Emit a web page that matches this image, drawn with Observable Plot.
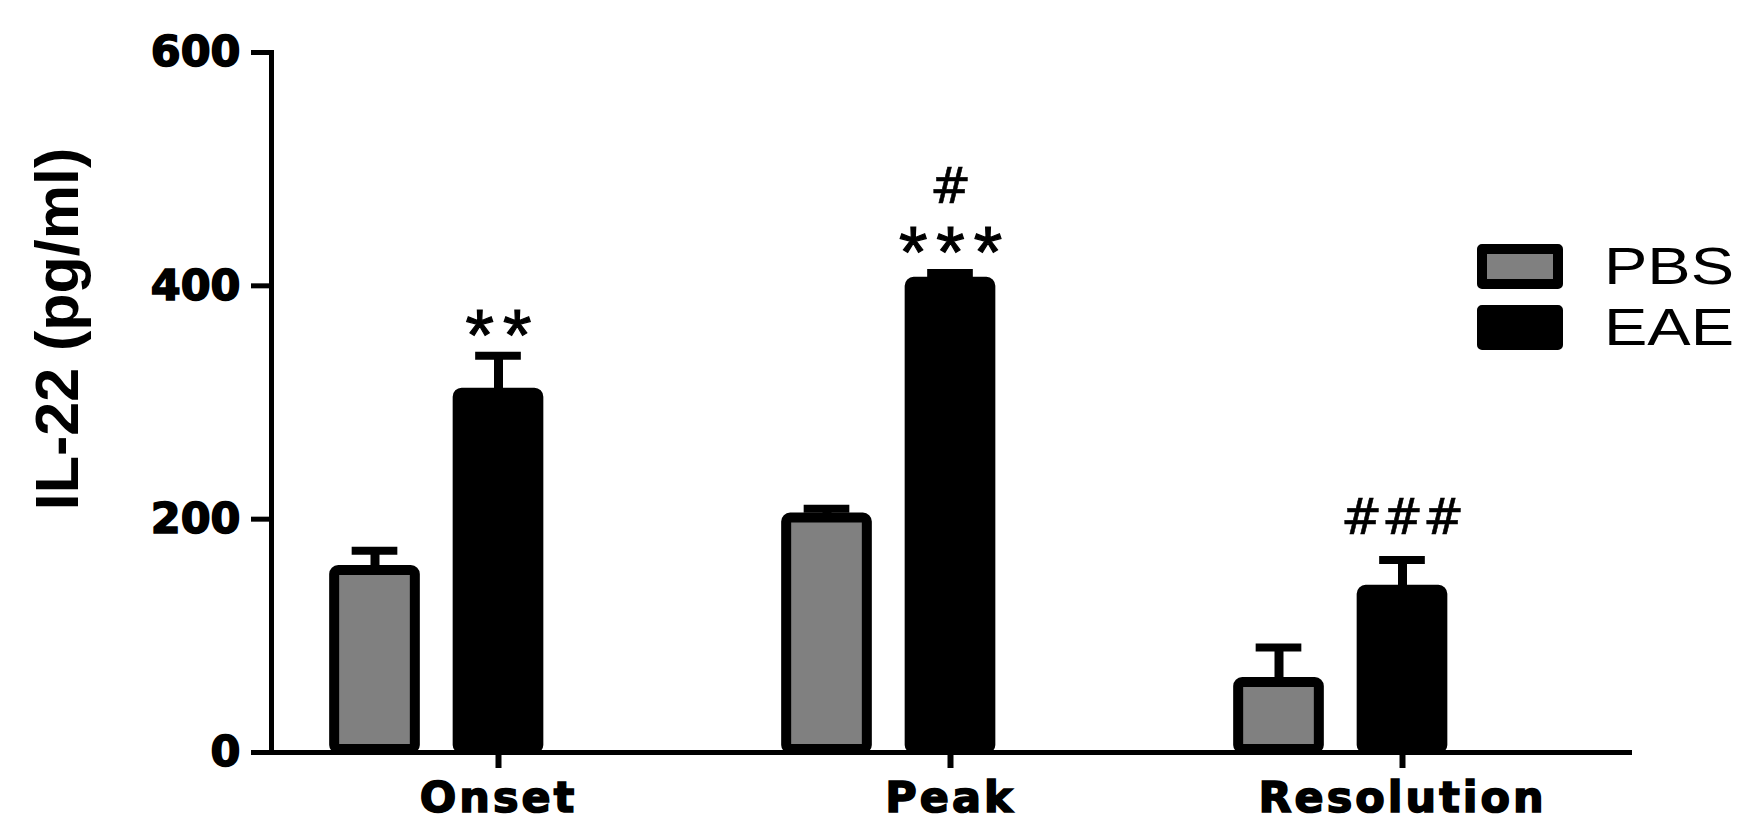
<!DOCTYPE html>
<html><head><meta charset="utf-8">
<script src="https://cdn.jsdelivr.net/npm/d3@7"></script>
<script src="https://cdn.jsdelivr.net/npm/@observablehq/plot@0.6"></script>
<style>
html,body{margin:0;padding:0;background:#fff;}
#wrap{position:relative;width:1747px;height:827px;overflow:hidden;background:#fff;}
#legend{position:absolute;left:1477px;top:244px;font-family:"Liberation Sans",Arial,sans-serif;}
.row{display:flex;align-items:center;height:45px;margin-bottom:16px;}
.sw{box-sizing:border-box;width:86px;height:45px;border:10px solid #000;border-radius:5px;}
.lab{margin-left:41px;font-size:52px;line-height:45px;transform:scaleX(1.25);transform-origin:left center;color:#000;white-space:nowrap;}
svg [aria-label="x-axis tick label"] text{letter-spacing:3px;stroke:#000;stroke-width:1.6px;}
svg [aria-label="y-axis tick label"] text{stroke:#000;stroke-width:1.6px;}
svg [aria-description="stars"] text{letter-spacing:9px;stroke:#000;stroke-width:1.2px;}
svg [aria-description="hashes"] text{stroke:#000;stroke-width:0.6px;}
</style></head>
<body><div id="wrap"><div id="legend"></div></div>
<script>
// ---- data ----
const stages = ["Onset", "Peak", "Resolution"];
const series = ["PBS", "EAE"];
const seriesFill = ["#808080", "#000000"];
const pbsMean = [156, 201, 60];
const pbsSem = [17, 8, 30];
const eaeMean = [308, 403, 139];
const eaeSem = [32, 8, 26];
const starLabels = ["**", "***", ""];
const hashLabels = ["", "#", "###"];
const yTicks = [0, 200, 400, 600];
const yLabel = "IL-22 (pg/ml)";

const pbs = stages.map((s, i) => ({stage: s, group: series[0], mean: pbsMean[i], sem: pbsSem[i]}));
const eae = stages.map((s, i) => ({stage: s, group: series[1], mean: eaeMean[i], sem: eaeSem[i], star: starLabels[i], hash: hashLabels[i]}));

// ---- layout ----
const W = 1747, H = 827, mL = 271, mR = 119, mT = 52, mB = 75;
const step = (W - mL - mR) / stages.length;
const barW = 81, capW = 46, off = 123.5;
const bi = (step - barW) / 2, ci = (step - capW) / 2;

function groupMarks(data, fill, dx) {
  return [
    Plot.barY(data, {x: "stage", y: "mean", fill, stroke: "#000", strokeWidth: 10, insetLeft: bi, insetRight: bi, insetBottom: 3, rx: 4, dx}),
    Plot.ruleX(data, {x: "stage", y1: "mean", y2: d => d.mean + d.sem, stroke: "#000", strokeWidth: 9, dx}),
    Plot.tickY(data, {x: "stage", y: d => d.mean + d.sem, stroke: "#000", strokeWidth: 8, insetLeft: ci, insetRight: ci, dx})
  ];
}

const chart = Plot.plot({
  width: W, height: H,
  marginLeft: mL, marginRight: mR, marginTop: mT, marginBottom: mB,
  style: {background: "#fff", color: "#000", fontFamily: "DejaVu Sans", overflow: "visible"},
  x: {type: "band", domain: stages, padding: 0},
  y: {domain: [0, 600]},
  marks: [
    ...groupMarks(pbs, seriesFill[0], -off),
    ...groupMarks(eae, seriesFill[1], 0),
    Plot.text(eae.filter(d => d.star), {x: "stage", y: d => d.mean + d.sem, text: "star", ariaDescription: "stars",
      fontFamily: "Liberation Sans", fontSize: 73, lineAnchor: "bottom", dy: 4, dx: 4.5, fill: "#000"}),
    Plot.text(eae.filter(d => d.hash && d.star), {x: "stage", y: d => d.mean + d.sem, text: "hash", ariaDescription: "hashes",
      fontFamily: "DejaVu Sans", fontSize: 49, lineAnchor: "bottom", dy: -70, fill: "#000"}),
    Plot.text(eae.filter(d => d.hash && !d.star), {x: "stage", y: d => d.mean + d.sem, text: "hash", ariaDescription: "hashes",
      fontFamily: "DejaVu Sans", fontSize: 49, lineAnchor: "bottom", dy: -26, fill: "#000"}),
    Plot.frame({anchor: "left", stroke: "#000", strokeWidth: 5}),
    Plot.ruleY([0], {stroke: "#000", strokeWidth: 5, insetRight: -4}),
    Plot.axisY({ticks: yTicks, tickSize: 20, tickPadding: 11, strokeWidth: 5, fontSize: 43, fontWeight: "bold",
      fontFamily: "DejaVu Sans", label: null, tickFormat: d => String(d)}),
    Plot.axisX({tickSize: 16, tickPadding: 13, strokeWidth: 6, fontSize: 43, fontWeight: "bold",
      fontFamily: "DejaVu Sans", label: null}),
    Plot.text([yLabel], {frameAnchor: "left", rotate: -90, dx: -194, dy: -73.5, fontFamily: "Liberation Sans",
      fontWeight: "bold", fontSize: 61, lineAnchor: "bottom", textAnchor: "middle", fill: "#000"})
  ]
});
const wrap = document.getElementById("wrap");
wrap.insertBefore(chart, wrap.firstChild);

// ---- legend ----
const legend = document.getElementById("legend");
series.forEach((s, i) => {
  const row = document.createElement("div");
  row.className = "row";
  const sw = document.createElement("div");
  sw.className = "sw";
  sw.style.background = seriesFill[i];
  const lab = document.createElement("span");
  lab.className = "lab";
  lab.textContent = s;
  row.appendChild(sw); row.appendChild(lab);
  legend.appendChild(row);
});
</script>
</body></html>
